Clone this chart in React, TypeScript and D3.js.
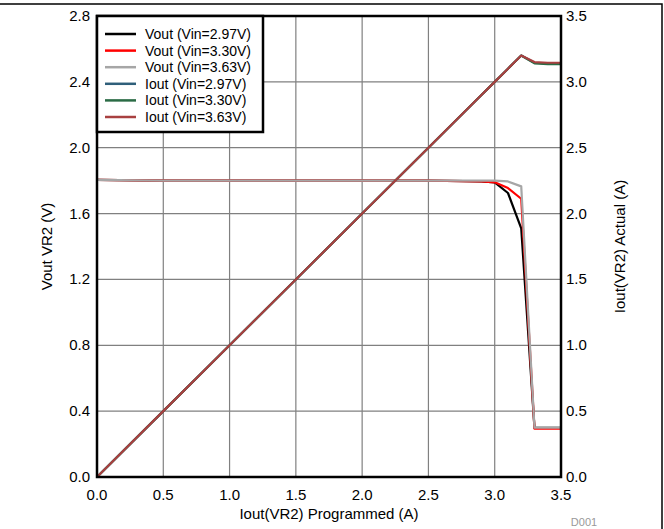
import React, { useEffect, useRef } from "react";
import * as d3 from "d3";

const xProg = [0, 0.5, 1.0, 1.5, 2.0, 2.5, 2.9, 3.0, 3.1, 3.2, 3.3, 3.4, 3.5];
const vout297 = [1.805, 1.8, 1.8, 1.8, 1.8, 1.8, 1.795, 1.79, 1.725, 1.51, 0.298, 0.298, 0.298];
const vout330 = [1.805, 1.8, 1.8, 1.8, 1.8, 1.8, 1.795, 1.79, 1.755, 1.69, 0.294, 0.294, 0.294];
const vout363 = [1.805, 1.8, 1.8, 1.8, 1.8, 1.8, 1.8, 1.8, 1.795, 1.765, 0.3, 0.3, 0.3];
const iout297 = [0, 0.5, 1.0, 1.5, 2.0, 2.5, 2.9, 3.0, 3.1, 3.2, 3.145, 3.14, 3.14];
const iout330 = [0, 0.5, 1.0, 1.5, 2.0, 2.5, 2.9, 3.0, 3.1, 3.2, 3.14, 3.135, 3.135];
const iout363 = [0, 0.5, 1.0, 1.5, 2.0, 2.5, 2.9, 3.0, 3.1, 3.2, 3.15, 3.145, 3.145];

const xTicks = [0, 0.5, 1.0, 1.5, 2.0, 2.5, 3.0, 3.5];
const yLeftTicks = [0, 0.4, 0.8, 1.2, 1.6, 2.0, 2.4, 2.8];
const yRightTicks = [0, 0.5, 1.0, 1.5, 2.0, 2.5, 3.0, 3.5];

const seriesNames = [
  "Vout (Vin=2.97V)",
  "Vout (Vin=3.30V)",
  "Vout (Vin=3.63V)",
  "Iout (Vin=2.97V)",
  "Iout (Vin=3.30V)",
  "Iout (Vin=3.63V)",
];
const seriesColors = ["#000000", "#ff0000", "#a6a6a6", "#2f5f7a", "#2a6b45", "#a84040"];

const W = 664;
const H = 529;
const L = 97, R = 561, T = 16, B = 477;
const FONT = "'Liberation Sans', Arial, sans-serif";

export default function App() {
  const ref = useRef<SVGSVGElement>(null);
  useEffect(() => {
    const svg = d3.select(ref.current);
    svg.selectAll("*").remove();
    const x = d3.scaleLinear().domain([0, 3.5]).range([L, R]);
    const yL = d3.scaleLinear().domain([0, 2.8]).range([B, T]);
    const yR = d3.scaleLinear().domain([0, 3.5]).range([B, T]);

    svg.append("rect").attr("width", W).attr("height", H).attr("fill", "#fff");

    // grid
    const g = svg.append("g");
    xTicks.slice(1, -1).forEach((t) => {
      g.append("line").attr("x1", x(t)).attr("x2", x(t)).attr("y1", T).attr("y2", B)
        .attr("stroke", "#808080").attr("stroke-width", 1.2);
    });
    yLeftTicks.slice(1, -1).forEach((t) => {
      g.append("line").attr("x1", L).attr("x2", R).attr("y1", yL(t)).attr("y2", yL(t))
        .attr("stroke", "#808080").attr("stroke-width", 1.2);
    });

    const voutSeries = [vout297, vout330, vout363];
    const ioutSeries = [iout297, iout330, iout363];
    const lineL = d3.line<number>().x((_, i) => x(xProg[i])).y((d) => yL(d));
    const lineR = d3.line<number>().x((_, i) => x(xProg[i])).y((d) => yR(d));
    voutSeries.forEach((s, i) => {
      svg.append("path").attr("d", lineL(s)).attr("fill", "none")
        .attr("stroke", seriesColors[i]).attr("stroke-width", 2.2).attr("stroke-linejoin", "round");
    });
    ioutSeries.forEach((s, i) => {
      svg.append("path").attr("d", lineR(s)).attr("fill", "none")
        .attr("stroke", seriesColors[3 + i]).attr("stroke-width", 2.2).attr("stroke-linejoin", "round");
    });

    // frame
    svg.append("rect").attr("x", L).attr("y", T).attr("width", R - L).attr("height", B - T)
      .attr("fill", "none").attr("stroke", "#000").attr("stroke-width", 2.5);

    // tick labels
    const fs = 15;
    xTicks.forEach((t) => {
      svg.append("text").attr("x", x(t)).attr("y", B + 23).attr("text-anchor", "middle")
        .attr("font-family", FONT).attr("font-size", fs).attr("fill", "#000").text(t.toFixed(1));
    });
    yLeftTicks.forEach((t) => {
      svg.append("text").attr("x", L - 7).attr("y", yL(t) + 5).attr("text-anchor", "end")
        .attr("font-family", FONT).attr("font-size", fs).attr("fill", "#000").text(t.toFixed(1));
    });
    yRightTicks.forEach((t) => {
      svg.append("text").attr("x", R + 5).attr("y", yR(t) + 5).attr("text-anchor", "start")
        .attr("font-family", FONT).attr("font-size", fs).attr("fill", "#000").text(t.toFixed(1));
    });

    // axis titles
    svg.append("text").attr("x", (L + R) / 2).attr("y", 519).attr("text-anchor", "middle")
      .attr("font-family", FONT).attr("font-size", fs).text("Iout(VR2) Programmed (A)");
    svg.append("text").attr("transform", `translate(52,${(T + B) / 2}) rotate(-90)`)
      .attr("text-anchor", "middle").attr("font-family", FONT).attr("font-size", fs).text("Vout VR2 (V)");
    svg.append("text").attr("transform", `translate(625,${(T + B) / 2}) rotate(-90)`)
      .attr("text-anchor", "middle").attr("font-family", FONT).attr("font-size", fs).text("Iout(VR2) Actual (A)");
    svg.append("text").attr("x", 584).attr("y", 526).attr("text-anchor", "middle")
      .attr("font-family", FONT).attr("font-size", 11).attr("fill", "#999").text("D001");

    // legend
    const lg = svg.append("g");
    lg.append("rect").attr("x", L).attr("y", T).attr("width", 166).attr("height", 116)
      .attr("fill", "#fff").attr("stroke", "#000").attr("stroke-width", 2.5);
    seriesNames.forEach((n, i) => {
      const yy = 34 + i * 16.6;
      lg.append("line").attr("x1", 105).attr("x2", 136).attr("y1", yy).attr("y2", yy)
        .attr("stroke", seriesColors[i]).attr("stroke-width", 2.5);
      lg.append("text").attr("x", 145).attr("y", yy + 5).attr("font-family", FONT)
        .attr("font-size", 14).attr("fill", "#000").text(n);
    });

    // outer border
    svg.append("path").attr("d", `M0,4H662V${H}`).attr("fill", "none")
      .attr("stroke", "#000").attr("stroke-width", 1.5);
  }, []);
  return (
    <svg ref={ref} width={W} height={H}
      style={{ position: "absolute", left: 0, top: 0, display: "block" }} />
  );
}
